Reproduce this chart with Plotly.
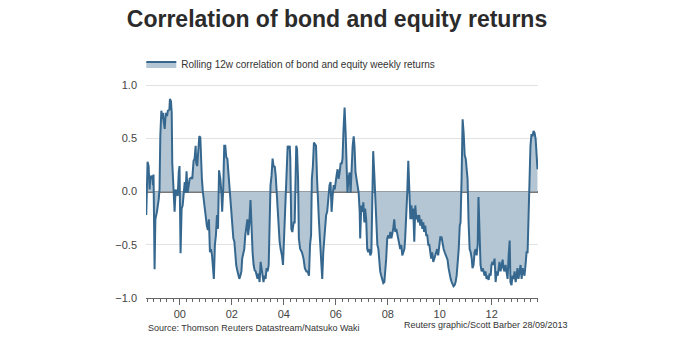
import plotly.graph_objects as go

# Rolling 12-week correlation (decimal years, correlation value)
YEARS = [
    1998.71, 1998.76, 1998.80, 1998.84, 1998.87, 1998.90, 1998.94, 1998.97, 1998.99, 1999.03,
    1999.06, 1999.12, 1999.19, 1999.22, 1999.25, 1999.29, 1999.33, 1999.35, 1999.38, 1999.42,
    1999.46, 1999.51, 1999.54, 1999.60, 1999.62, 1999.66, 1999.69, 1999.71, 1999.76, 1999.80,
    1999.84, 1999.88, 1999.92, 1999.96, 1999.99, 2000.03, 2000.07, 2000.11, 2000.15, 2000.19,
    2000.22, 2000.26, 2000.30, 2000.34, 2000.38, 2000.43, 2000.48, 2000.53, 2000.57, 2000.61,
    2000.63, 2000.67, 2000.71, 2000.75, 2000.79, 2000.81, 2000.85, 2000.89, 2000.94, 2000.99,
    2001.04, 2001.08, 2001.12, 2001.16, 2001.20, 2001.24, 2001.28, 2001.31, 2001.35, 2001.39,
    2001.43, 2001.47, 2001.51, 2001.56, 2001.60, 2001.63, 2001.67, 2001.71, 2001.75, 2001.79,
    2001.83, 2001.87, 2001.90, 2001.94, 2001.98, 2002.02, 2002.06, 2002.10, 2002.13, 2002.17,
    2002.21, 2002.25, 2002.29, 2002.33, 2002.37, 2002.40, 2002.44, 2002.48, 2002.52, 2002.56,
    2002.60, 2002.63, 2002.67, 2002.72, 2002.76, 2002.80, 2002.84, 2002.88, 2002.92, 2002.96,
    2002.99, 2003.03, 2003.07, 2003.11, 2003.15, 2003.19, 2003.22, 2003.26, 2003.30, 2003.34,
    2003.38, 2003.42, 2003.46, 2003.49, 2003.53, 2003.57, 2003.61, 2003.65, 2003.69, 2003.72,
    2003.76, 2003.80, 2003.84, 2003.88, 2003.93, 2003.97, 2004.02, 2004.10, 2004.15, 2004.19,
    2004.23, 2004.25, 2004.29, 2004.33, 2004.38, 2004.42, 2004.46, 2004.48, 2004.51, 2004.55,
    2004.58, 2004.63, 2004.70, 2004.76, 2004.81, 2004.87, 2004.92, 2004.97, 2005.01, 2005.05,
    2005.08, 2005.12, 2005.16, 2005.20, 2005.24, 2005.28, 2005.31, 2005.35, 2005.39, 2005.43,
    2005.48, 2005.52, 2005.56, 2005.60, 2005.63, 2005.67, 2005.72, 2005.76, 2005.80, 2005.84,
    2005.88, 2005.92, 2005.96, 2005.99, 2006.03, 2006.07, 2006.11, 2006.15, 2006.19, 2006.23,
    2006.26, 2006.30, 2006.34, 2006.38, 2006.42, 2006.45, 2006.49, 2006.53, 2006.57, 2006.61,
    2006.65, 2006.69, 2006.72, 2006.76, 2006.80, 2006.84, 2006.88, 2006.92, 2006.94, 2006.98,
    2007.02, 2007.06, 2007.10, 2007.13, 2007.17, 2007.21, 2007.25, 2007.29, 2007.33, 2007.37,
    2007.40, 2007.44, 2007.48, 2007.52, 2007.56, 2007.60, 2007.64, 2007.67, 2007.71, 2007.75,
    2007.79, 2007.83, 2007.87, 2007.91, 2007.94, 2007.98, 2008.02, 2008.06, 2008.10, 2008.14,
    2008.17, 2008.21, 2008.25, 2008.29, 2008.33, 2008.37, 2008.40, 2008.44, 2008.48, 2008.52,
    2008.56, 2008.60, 2008.64, 2008.67, 2008.71, 2008.75, 2008.79, 2008.83, 2008.87, 2008.91,
    2008.94, 2008.98, 2009.02, 2009.06, 2009.10, 2009.14, 2009.17, 2009.21, 2009.25, 2009.29,
    2009.33, 2009.37, 2009.40, 2009.44, 2009.48, 2009.52, 2009.56, 2009.60, 2009.63, 2009.67,
    2009.71, 2009.75, 2009.79, 2009.83, 2009.87, 2009.90, 2009.94, 2009.98, 2010.02, 2010.07,
    2010.11, 2010.15, 2010.19, 2010.23, 2010.27, 2010.30, 2010.34, 2010.38, 2010.42, 2010.46,
    2010.50, 2010.53, 2010.57, 2010.61, 2010.65, 2010.69, 2010.73, 2010.77, 2010.80, 2010.84,
    2010.88, 2010.92, 2010.96, 2011.00, 2011.03, 2011.07, 2011.11, 2011.15, 2011.19, 2011.23,
    2011.26, 2011.30, 2011.34, 2011.38, 2011.42, 2011.46, 2011.49, 2011.53, 2011.57, 2011.61,
    2011.65, 2011.69, 2011.72, 2011.76, 2011.80, 2011.84, 2011.88, 2011.92, 2011.96, 2011.99,
    2012.03, 2012.07, 2012.11, 2012.15, 2012.19, 2012.23, 2012.26, 2012.30, 2012.34, 2012.38,
    2012.42, 2012.45, 2012.49, 2012.53, 2012.57, 2012.61, 2012.65, 2012.69, 2012.72, 2012.76,
    2012.80, 2012.84, 2012.88, 2012.92, 2012.96, 2012.99, 2013.03, 2013.07, 2013.11, 2013.15,
    2013.19, 2013.22, 2013.26, 2013.30, 2013.34, 2013.38, 2013.42, 2013.45, 2013.49, 2013.53,
    2013.57, 2013.61, 2013.65, 2013.69, 2013.73, 2013.76,
]

CORRELATION = [
    -0.22, 0.28, 0.24, 0.02, 0.15, 0.12, 0.15, 0.06, 0.16, -0.73,
    -0.26, -0.19, -0.07, 0.02, 0.52, 0.76, 0.68, 0.74, 0.66, 0.59,
    0.74, 0.71, 0.76, 0.77, 0.87, 0.85, 0.74, 0.27, 0.02, -0.19,
    0.02, -0.02, -0.04, 0.18, 0.24, -0.58, -0.16, -0.13, 0.02, 0.09,
    -0.01, 0.19, -0.01, 0.06, 0.12, 0.13, 0.12, 0.29, 0.31, 0.43,
    0.27, 0.24, 0.37, 0.52, 0.51, 0.27, 0.12, -0.01, -0.13, -0.22,
    -0.32, -0.36, -0.26, -0.57, -0.54, -0.60, -0.79, -0.82, -0.50, -0.41,
    -0.22, -0.35, 0.20, 0.12, -0.01, -0.19, 0.02, 0.43, 0.43, 0.32,
    0.31, 0.18, -0.01, -0.13, -0.26, -0.32, -0.44, -0.47, -0.63, -0.69,
    -0.74, -0.79, -0.82, -0.79, -0.75, -0.63, -0.57, -0.54, -0.41, -0.32,
    -0.26, -0.41, -0.32, -0.08, -0.35, -0.57, -0.69, -0.74, -0.75, -0.79,
    -0.82, -0.77, -0.85, -0.66, -0.75, -0.83, -0.85, -0.79, -0.82, -0.72,
    -0.75, -0.69, -0.04, 0.06, 0.15, 0.31, 0.23, 0.24, 0.15, 0.02,
    -0.13, -0.32, -0.47, -0.54, -0.60, -0.69, -0.35, 0.12, 0.43, 0.40,
    0.43, 0.31, -0.35, -0.38, -0.29, -0.29, 0.12, 0.43, 0.40, 0.12,
    -0.44, -0.54, -0.57, -0.63, -0.72, -0.75, -0.75, -0.79, -0.50, -0.41,
    0.12, 0.24, 0.46, 0.45, 0.43, 0.12, -0.10, -0.26, -0.44, -0.63,
    -0.82, -0.57, -0.41, -0.32, -0.22, -0.19, -0.04, 0.06, 0.09, -0.19,
    -0.04, 0.06, 0.02, 0.06, 0.15, 0.21, 0.12, 0.18, 0.27, 0.26,
    0.31, 0.59, 0.79, 0.55, 0.24, -0.01, 0.12, 0.18, -0.01, 0.31,
    0.43, 0.52, 0.43, 0.18, 0.12, 0.06, -0.01, -0.19, -0.44, -0.13,
    -0.19, -0.10, -0.29, -0.16, -0.26, -0.54, -0.57, -0.54, -0.60, -0.57,
    -0.01, 0.38, 0.18, -0.01, -0.26, -0.50, -0.54, -0.69, -0.75, -0.79,
    -0.82, -0.86, -0.85, -0.75, -0.63, -0.44, -0.41, -0.44, -0.38, -0.44,
    -0.41, -0.35, -0.26, -0.38, -0.35, -0.41, -0.44, -0.50, -0.54, -0.50,
    -0.60, -0.57, -0.54, -0.44, -0.26, -0.01, 0.29, -0.04, -0.26, -0.13,
    -0.26, -0.16, -0.47, -0.13, -0.26, -0.22, -0.29, -0.22, -0.32, -0.26,
    -0.35, -0.29, -0.38, -0.32, -0.41, -0.41, -0.50, -0.50, -0.54, -0.63,
    -0.57, -0.66, -0.63, -0.60, -0.57, -0.54, -0.60, -0.50, -0.43, -0.43,
    -0.50, -0.54, -0.57, -0.60, -0.63, -0.64, -0.72, -0.79, -0.82, -0.85,
    -0.88, -0.89, -0.88, -0.85, -0.79, -0.69, -0.54, -0.32, -0.29, 0.12,
    0.68, 0.55, 0.34, 0.31, 0.24, 0.12, -0.29, -0.54, -0.57, -0.63,
    -0.72, -0.69, -0.57, -0.54, -0.60, -0.50, -0.05, -0.44, -0.69, -0.75,
    -0.72, -0.75, -0.79, -0.75, -0.82, -0.79, -0.83, -0.77, -0.79, -0.69,
    -0.66, -0.69, -0.63, -0.85, -0.75, -0.79, -0.72, -0.66, -0.75, -0.69,
    -0.64, -0.72, -0.75, -0.69, -0.79, -0.82, -0.60, -0.46, -0.85, -0.88,
    -0.79, -0.82, -0.75, -0.85, -0.79, -0.72, -0.82, -0.75, -0.69, -0.82,
    -0.72, -0.75, -0.79, -0.69, -0.57, -0.57, -0.19, 0.12, 0.43, 0.54,
    0.52, 0.57, 0.55, 0.49, 0.31, 0.21,
]

TICK_YEARS = [2000, 2002, 2004, 2006, 2008, 2010, 2012]
TICK_LABELS = ["00", "02", "04", "06", "08", "10", "12"]
Y_TICKS = [-1.0, -0.5, 0.0, 0.5, 1.0]

TITLE = "Correlation of bond and equity returns"
SERIES_NAME = "Rolling 12w correlation of bond and equity weekly returns"
SOURCE = "Source: Thomson Reuters Datastream/Natsuko Waki"
CREDIT = "Reuters graphic/Scott Barber 28/09/2013"

FONT = "Liberation Sans, Arial, sans-serif"
LINE = "#36688f"
FILL = "#b4c6d4"

fig = go.Figure()
fig.add_trace(go.Scatter(
    x=YEARS, y=CORRELATION, mode="lines", name=SERIES_NAME,
    line=dict(color=LINE, width=2), fill="tozeroy", fillcolor=FILL,
))

fig.update_layout(
    width=692, height=338,
    margin=dict(l=146, r=154, t=82, b=40),
    paper_bgcolor="white", plot_bgcolor="white",
    title=dict(text="<b>" + TITLE + "</b>", x=0.487, xanchor="center",
               y=0.945, yanchor="middle",
               font=dict(family=FONT, size=23, color="#2b2b2b")),
    showlegend=True,
    legend=dict(x=-0.012, y=1.083, xanchor="left", yanchor="middle",
                font=dict(family=FONT, size=10, color="#333"),
                bgcolor="rgba(0,0,0,0)", itemwidth=30),
    xaxis=dict(range=[1998.7, 2013.78], showgrid=False, zeroline=False,
               tickmode="array", tickvals=TICK_YEARS, ticktext=TICK_LABELS,
               ticks="outside", ticklen=6, tickcolor="#666", tickwidth=1,
               showline=True, linecolor="#666", linewidth=1,
               tickfont=dict(family=FONT, size=11, color="#444"),
               minor=dict(tickmode="linear", tick0=2000, dtick=0.25,
                          ticks="outside", ticklen=3, tickcolor="#666",
                          showgrid=False)),
    yaxis=dict(range=[-1.0, 1.03], tickmode="array", tickvals=Y_TICKS,
               tickformat=".1f", showgrid=True, gridcolor="#e2e2e2", gridwidth=1,
               zeroline=True, zerolinecolor="#777", zerolinewidth=2,
               ticks="", showline=False, ticklabelstandoff=8,
               tickfont=dict(family=FONT, size=11, color="#444")),
    annotations=[
        dict(text=SOURCE, xref="paper", yref="paper", x=0.0, y=-0.139,
             xanchor="left", yanchor="middle", showarrow=False,
             font=dict(family=FONT, size=9, color="#333")),
        dict(text=CREDIT, xref="paper", yref="paper", x=1.082, y=-0.125,
             xanchor="right", yanchor="middle", showarrow=False,
             font=dict(family=FONT, size=9, color="#333")),
    ],
)

fig.write_html("out.html")
